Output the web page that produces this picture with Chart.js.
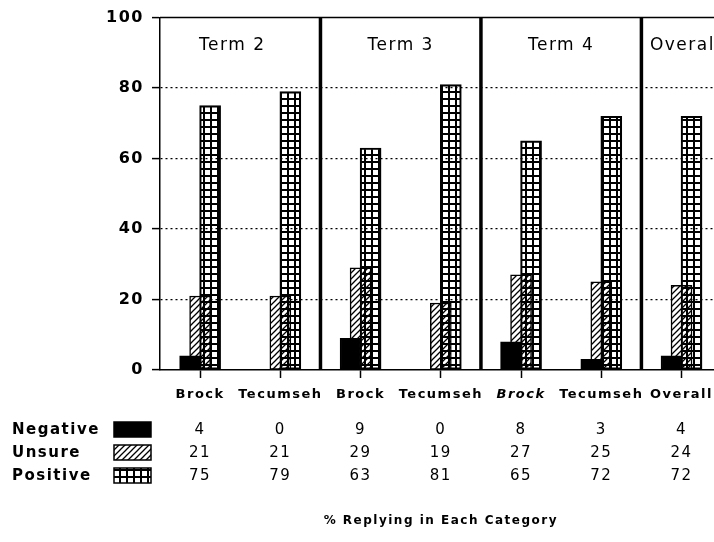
<!DOCTYPE html>
<html>
<head>
<meta charset="utf-8">
<script src="https://cdn.jsdelivr.net/npm/chart.js@4"></script>
<style>
  html, body { margin: 0; padding: 0; background: #fff; overflow: hidden; }
  canvas { display: block; }
</style>
</head>
<body>
<canvas id="terms" width="722" height="542"></canvas>
<script>
// values
const categories = ['Brock', 'Tecumseh', 'Brock', 'Tecumseh', 'Brock', 'Tecumseh', 'Overall'];
const negative = [4, 0, 9, 0, 8, 3, 4];
const unsure = [21, 21, 29, 19, 27, 25, 24];
const positive = [75, 79, 63, 81, 65, 72, 72];
const periods = ['Term 2', 'Term 3', 'Term 4', 'Overall'];
const periodSpans = [[0, 1], [2, 3], [4, 5], [6, 6]];
const rowNames = ['Negative', 'Unsure', 'Positive'];

const FONT = '"DejaVu Sans", Arial, sans-serif';

function hatchPattern() {
    const c = document.createElement('canvas');
    c.width = 6; c.height = 6;
    const g = c.getContext('2d');
    g.fillStyle = '#fff';
    g.fillRect(0, 0, 6, 6);
    g.strokeStyle = '#000';
    g.lineWidth = 1.3;
    g.beginPath();
    g.moveTo(-1, 7); g.lineTo(7, -1);
    g.moveTo(-1, 1); g.lineTo(1, -1);
    g.moveTo(5, 7); g.lineTo(7, 5);
    g.stroke();
    return g.createPattern(c, 'repeat');
}

// grid cells are left see-through, so the hatching shows where bars overlap
function gridPattern() {
    const c = document.createElement('canvas');
    c.width = 7; c.height = 7;
    const g = c.getContext('2d');
    g.fillStyle = '#000';
    g.fillRect(0, 0, 7, 2);
    g.fillRect(0, 0, 2, 7);
    return g.createPattern(c, 'repeat');
}

const hatch = hatchPattern();
const grid = gridPattern();
const fills = ['#000', hatch, grid];
const shifts = [-10, 0, 10];

// bars overlap each other a little, like the original
const overlapBars = {
    id: 'overlapBars',
    afterDatasetsUpdate(chart) {
        chart.data.datasets.forEach((ds, d) => {
            chart.getDatasetMeta(d).data.forEach(bar => { bar.x += shifts[d]; });
        });
    }
};

const spacing = {
    id: 'spacing',
    beforeLayout(chart) { chart.ctx.letterSpacing = '1.5px'; },
    beforeDraw(chart) {
        const ctx = chart.ctx;
        ctx.letterSpacing = '1.5px';
        ctx.save();
        ctx.fillStyle = '#fff';
        ctx.fillRect(0, 0, chart.width, chart.height);
        ctx.restore();
    }
};

const frame = {
    id: 'frame',
    afterDatasetsDraw(chart) {
        const ctx = chart.ctx;
        const x = chart.scales.x, y = chart.scales.y;
        const top = y.getPixelForValue(100), bottom = y.getPixelForValue(0);
        ctx.save();
        ctx.strokeStyle = '#000';
        ctx.lineWidth = 1.5;
        ctx.beginPath();
        ctx.moveTo(x.left, top); ctx.lineTo(x.right, top);
        ctx.stroke();
        ctx.lineWidth = 3.5;
        [1.5, 3.5, 5.5].forEach(v => {
            const px = x.getPixelForValue(v);
            ctx.beginPath();
            ctx.moveTo(px, top); ctx.lineTo(px, bottom);
            ctx.stroke();
        });
        ctx.fillStyle = '#000';
        ctx.font = '17px ' + FONT;
        ctx.textBaseline = 'middle';
        ctx.textAlign = 'center';
        periods.forEach((p, i) => {
            const span = periodSpans[i];
            let cx = (x.getPixelForValue(span[0]) + x.getPixelForValue(span[1])) / 2;
            if (i === 0) cx -= 8;
            if (i === 3) cx += 4;
            ctx.fillText(p, cx, y.getPixelForValue(92));
        });
        ctx.restore();
    },
    afterDraw(chart) {
        const ctx = chart.ctx;
        const x = chart.scales.x;
        const series = [negative, unsure, positive];
        const rowY = [430, 453, 476];
        ctx.save();
        ctx.fillStyle = '#000';
        ctx.textBaseline = 'middle';
        rowNames.forEach((name, r) => {
            ctx.textAlign = 'left';
            ctx.font = 'bold 15px ' + FONT;
            ctx.fillStyle = '#000';
            ctx.fillText(name, 12, rowY[r]);
            ctx.fillStyle = fills[r];
            ctx.fillRect(114, rowY[r] - 8, 37, 15);
            ctx.strokeStyle = '#000';
            ctx.lineWidth = 1.5;
            ctx.strokeRect(114, rowY[r] - 8, 37, 15);
            ctx.fillStyle = '#000';
            ctx.textAlign = 'center';
            ctx.font = '15px ' + FONT;
            series[r].forEach((v, i) => {
                ctx.fillText(String(v), x.getPixelForValue(i), rowY[r]);
            });
        });
        ctx.font = 'bold 12px ' + FONT;
        ctx.textAlign = 'center';
        ctx.fillText('% Replying in Each Category', (x.left + x.right) / 2, 521);
        ctx.restore();
    }
};

const dataTerms = {
    labels: categories,
    datasets: [
        { label: rowNames[0], data: negative, backgroundColor: fills[0], order: 1 },
        { label: rowNames[1], data: unsure, backgroundColor: fills[1], order: 2 },
        { label: rowNames[2], data: positive, backgroundColor: fills[2], order: 1 }
    ]
};

const configTerms = {
    type: 'bar',
    data: dataTerms,
    options: {
        responsive: false,
        animation: false,
        layout: { padding: { left: 10, top: 15, right: 0, bottom: 130 } },
        datasets: {
            bar: {
                grouped: false,
                barThickness: 21,
                borderColor: '#000',
                borderWidth: 1.5,
                borderSkipped: false
            }
        },
        plugins: {
            legend: { display: false },
            tooltip: { enabled: false },
            title: { display: false }
        },
        scales: {
            x: {
                offset: true,
                afterFit(scale) { scale.height = 42; },
                grid: {
                    display: true,
                    offset: false,
                    drawOnChartArea: false,
                    drawTicks: true,
                    tickLength: 8,
                    tickColor: '#000',
                    tickWidth: 1.5
                },
                border: { display: true, color: '#000', width: 1.5 },
                ticks: {
                    color: '#000',
                    padding: 9,
                    maxRotation: 0,
                    autoSkip: false,
                    font: ctx => ({
                        family: FONT,
                        size: 13,
                        weight: 'bold',
                        style: ctx.index === 4 ? 'italic' : 'normal'
                    })
                }
            },
            y: {
                min: 0,
                max: 100,
                afterFit(scale) { scale.width = 150; },
                grid: {
                    color: ctx => (ctx.tick.value === 0 || ctx.tick.value === 100) ? 'rgba(0,0,0,0)' : '#000',
                    lineWidth: 1.2,
                    drawTicks: true,
                    tickLength: 8,
                    tickColor: '#000',
                    tickWidth: 1.5,
                    tickBorderDash: []
                },
                border: { display: true, color: '#000', width: 1.5, dash: [2, 3] },
                ticks: {
                    stepSize: 20,
                    color: '#000',
                    padding: 8,
                    font: { family: FONT, size: 16, weight: 'bold' }
                }
            }
        }
    },
    plugins: [spacing, overlapBars, frame]
};

const chartTerms = new Chart(document.getElementById('terms'), configTerms);
</script>
</body>
</html>
